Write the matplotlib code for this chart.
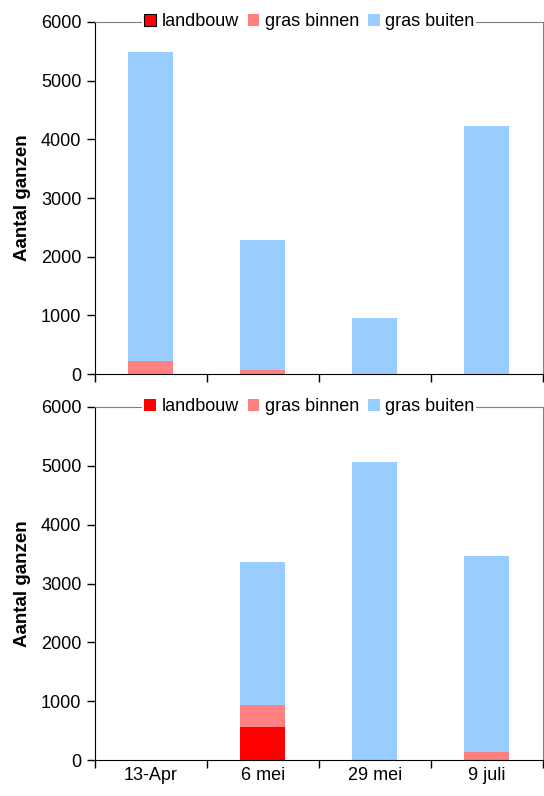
import matplotlib.pyplot as plt
from matplotlib.patches import Patch
import numpy as np

plt.rcParams['font.family'] = ['Liberation Sans', 'DejaVu Sans']

dates = ["13-Apr", "6 mei", "29 mei", "9 juli"]
series = ["landbouw", "gras binnen", "gras buiten"]

# bovenste grafiek
top_landbouw = [0, 0, 0, 0]
top_binnen = [230, 75, 0, 0]
top_buiten = [5250, 2205, 950, 4220]

# onderste grafiek
bot_landbouw = [0, 560, 0, 0]
bot_binnen = [0, 370, 0, 130]
bot_buiten = [0, 2440, 5060, 3340]

colors = ["#ff0000", "#ff8080", "#99ccff"]

fig = plt.figure(figsize=(5.44, 7.96), dpi=100)
ax1 = fig.add_axes([0.174, 0.530, 0.824, 0.4424])
ax2 = fig.add_axes([0.174, 0.0452, 0.824, 0.4435])


def draw(ax, landbouw, binnen, buiten, edge, show_x):
    x = np.arange(len(dates))
    landbouw = np.array(landbouw)
    binnen = np.array(binnen)
    buiten = np.array(buiten)
    ax.bar(x, landbouw, 0.4, color=colors[0], label=series[0])
    ax.bar(x, binnen, 0.4, bottom=landbouw, color=colors[1], label=series[1])
    ax.bar(x, buiten, 0.4, bottom=landbouw + binnen, color=colors[2], label=series[2])
    ax.set_xlim(-0.5, len(dates) - 0.5)
    ax.set_ylim(0, 6000)
    ax.set_yticks(np.arange(0, 6001, 1000))
    ax.set_xticks(np.arange(-0.5, len(dates), 1.0))
    ax.set_xticklabels([])
    if show_x:
        ax.set_xticks(x, minor=True)
        ax.set_xticklabels(dates, minor=True)
    ax.tick_params(axis='x', which='minor', length=0, pad=5, labelsize=13)
    ax.tick_params(axis='both', which='major', direction='out', length=6,
                   width=1, labelsize=13, color='black')
    ax.set_ylabel("Aantal ganzen", fontsize=13.5, fontweight='bold', labelpad=7)
    for s in ['top', 'right']:
        ax.spines[s].set_color('#808080')
    for s in ['left', 'bottom']:
        ax.spines[s].set_color('black')
    # legenda over de bovenrand
    handles = [Patch(facecolor=colors[0], edgecolor=edge, linewidth=0.8),
               Patch(facecolor=colors[1], edgecolor='none'),
               Patch(facecolor=colors[2], edgecolor='none')]
    leg = ax.legend(handles, series, loc='center', bbox_to_anchor=(0.479, 1.0),
                    ncol=3, frameon=True, fontsize=13, handlelength=0.65,
                    handleheight=0.65, handletextpad=0.3, columnspacing=0.5,
                    borderpad=0.1, borderaxespad=0)
    leg.get_frame().set_edgecolor('none')
    leg.get_frame().set_facecolor('white')
    leg.get_frame().set_alpha(1)
    leg.set_zorder(5)


draw(ax1, top_landbouw, top_binnen, top_buiten, 'black', False)
draw(ax2, bot_landbouw, bot_binnen, bot_buiten, 'none', True)

fig.savefig("out.png", dpi=100)
